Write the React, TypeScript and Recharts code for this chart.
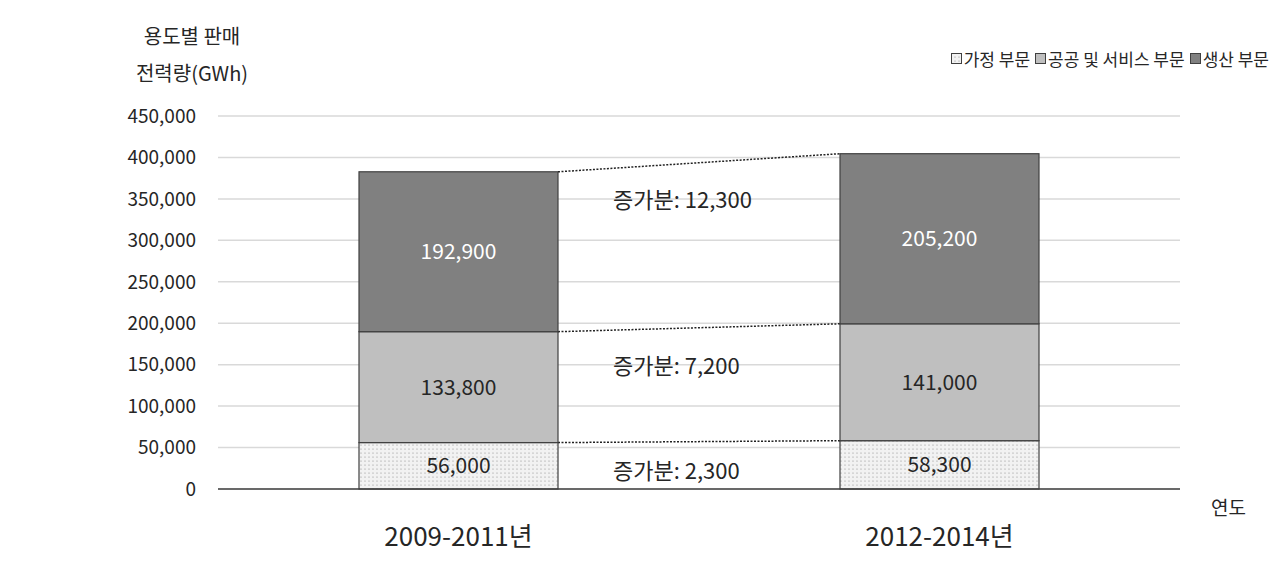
import React from "react";
import { BarChart, Bar, XAxis, YAxis, CartesianGrid, LabelList } from "recharts";

const FONT = "'Noto Sans CJK KR', 'Noto Sans', sans-serif";

const PERIODS = ["2009-2011년", "2012-2014년"];
const SERIES_NAMES = ["가정 부문", "공공 및 서비스 부문", "생산 부문"];
const HOUSEHOLD = [56000, 58300];
const PUBLIC_SERVICE = [133800, 141000];
const PRODUCTION = [192900, 205200];
const INCREASES = [2300, 7200, 12300];
const Y_TICKS = [0, 50000, 100000, 150000, 200000, 250000, 300000, 350000, 400000, 450000];

const data = PERIODS.map((period, i) => ({
  period,
  household: HOUSEHOLD[i],
  publicService: PUBLIC_SERVICE[i],
  production: PRODUCTION[i],
}));

const fmt = (v: number) => v.toLocaleString("en-US");

// first bar of each series, remembered so the second one can draw the dotted connector
const firstRects: Record<string, { x: number; y: number; width: number; height: number }> = {};

const makeShape = (key: string, fill: string, increase: number, textOffset: number) => (props: any) => {
  const { x, y, width, height, index } = props;
  let connector = null;
  if (index === 0) {
    firstRects[key] = { x, y, width, height };
  } else {
    const prev = firstRects[key];
    if (prev) {
      const x1 = prev.x + prev.width;
      connector = (
        <g>
          <line x1={x1} y1={prev.y} x2={x} y2={y} stroke="#222" strokeWidth={1.5} strokeDasharray="2 1.5" />
          <text
            x={x1 + 55}
            y={(prev.y + y) / 2 + textOffset}
            fontSize={22}
            fill="#262626"
            fontFamily={FONT}
            dominantBaseline="central"
          >
            {`증가분: ${fmt(increase)}`}
          </text>
        </g>
      );
    }
  }
  return (
    <g>
      <defs>
        <pattern id="dots" width={4} height={4} patternUnits="userSpaceOnUse">
          <rect width={4} height={4} fill="#f2f2f2" />
          <circle cx={1} cy={1} r={0.6} fill="#8c8c8c" />
        </pattern>
      </defs>
      <rect x={x} y={y} width={width} height={height} fill={fill} stroke="#404040" strokeWidth={1.2} />
      {connector}
    </g>
  );
};

const LegendBox = () => {
  const fills = ["url(#dots)", "#bfbfbf", "#808080"];
  return (
    <div style={{ display: "flex", fontFamily: FONT, fontSize: 17, color: "#262626", whiteSpace: "nowrap" }}>
      {SERIES_NAMES.map((n, i) => (
        <span key={n} style={{ display: "flex", alignItems: "center", marginLeft: i ? 4 : 0 }}>
          <svg width={13} height={13} style={{ marginRight: 1 }}>
            <rect x={1.5} y={1.5} width={10} height={10} fill={fills[i]} stroke="#404040" strokeWidth={1} />
          </svg>
          {n}
        </span>
      ))}
    </div>
  );
};

export default function App() {
  return (
    <div style={{ position: "absolute", left: 0, top: 0, width: 1285, height: 570, background: "#fff", fontFamily: FONT }}>
      <div style={{ position: "absolute", left: 92, top: 17, width: 200, textAlign: "center", fontSize: 20, color: "#262626", lineHeight: "37px" }}>
        용도별 판매
        <br />
        전력량(GWh)
      </div>
      <div style={{ position: "absolute", left: 1211, top: 493, fontSize: 19, color: "#262626" }}>연도</div>
      <div style={{ position: "absolute", right: 16, top: 46 }}>
        <LegendBox />
      </div>
      <BarChart
        width={1285}
        height={570}
        data={data}
        margin={{ top: 116, right: 105, left: 0, bottom: 21 }}
        barSize={199}
      >
        <CartesianGrid vertical={false} stroke="#d9d9d9" strokeWidth={1.5} />
        <XAxis
          dataKey="period"
          tickLine={false}
          axisLine={{ stroke: "#404040", strokeWidth: 1.5 }}
          tick={{ fontSize: 26, fill: "#262626", fontFamily: FONT }}
          tickMargin={33}
          height={60}
        />
        <YAxis
          width={218}
          domain={[0, 450000]}
          ticks={Y_TICKS}
          tickFormatter={fmt}
          axisLine={false}
          tickLine={false}
          tickSize={0}
          tickMargin={22}
          tick={{ fontSize: 19, fill: "#262626", fontFamily: FONT }}
        />
        <Bar dataKey="household" stackId="a" isAnimationActive={false} shape={makeShape("household", "url(#dots)", INCREASES[0], 27)}>
          <LabelList dataKey="household" position="center" formatter={(v: any) => fmt(Number(v))} fill="#262626" fontSize={21} fontFamily={FONT} />
        </Bar>
        <Bar dataKey="publicService" stackId="a" isAnimationActive={false} shape={makeShape("publicService", "#bfbfbf", INCREASES[1], 36)}>
          <LabelList dataKey="publicService" position="center" formatter={(v: any) => fmt(Number(v))} fill="#262626" fontSize={21} fontFamily={FONT} />
        </Bar>
        <Bar dataKey="production" stackId="a" isAnimationActive={false} shape={makeShape("production", "#808080", INCREASES[2], 35)}>
          <LabelList dataKey="production" position="center" formatter={(v: any) => fmt(Number(v))} fill="#ffffff" fontSize={21} fontFamily={FONT} />
        </Bar>
      </BarChart>
    </div>
  );
}
